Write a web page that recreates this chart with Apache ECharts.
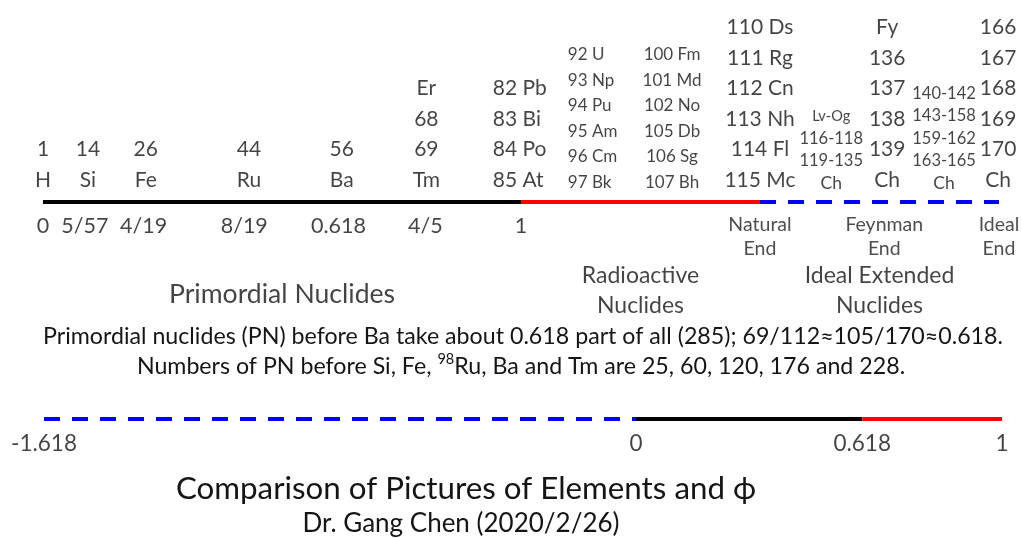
<!DOCTYPE html>
<html><head><meta charset="utf-8">
<script src="https://cdn.jsdelivr.net/npm/echarts@6/dist/echarts.min.js"></script>
<style>html,body{margin:0;padding:0;background:#fff}#c{width:1021px;height:538px}</style>
</head><body><div id="c"></div>
<script>
// ---------- data ----------
// top number line segments (fraction scale)
const topBlack = [0, 1];
const topRed = [1, 1.5];
const topBlue = [1.5, 2];
// element label columns above the top line
const colPos = [0, 0.094, 0.215, 0.431, 0.625, 0.802, 0.941, 1.098, 1.316, 1.5, 1.649, 1.766, 1.885, 1.998];
const colLines = [
  ['1', 'H'], ['14', 'Si'], ['26', 'Fe'], ['44', 'Ru'], ['56', 'Ba'],
  ['Er', '68', '69', 'Tm'],
  ['82 Pb', '83 Bi', '84 Po', '85 At'],
  ['92 U', '93 Np', '94 Pu', '95 Am', '96 Cm', '97 Bk'],
  ['100 Fm', '101 Md', '102 No', '105 Db', '106 Sg', '107 Bh'],
  ['110 Ds', '111 Rg', '112 Cn', '113 Nh', '114 Fl', '115 Mc'],
  ['Lv-Og', '116-118', '119-135', 'Ch'],
  ['Fy', '136', '137', '138', '139', 'Ch'],
  ['140-142', '143-158', '159-162', '163-165', 'Ch'],
  ['166', '167', '168', '169', '170', 'Ch']
];
const colKind = ['big','big','big','big','big','big','big','small','small','big','mixA','big','mixB','big'];
const colAlign = ['center','center','center','center','center','center','left','left','center','center','center','center','center','center'];
// tick labels under the top line
const tickPos = [0, 5/57, 4/19, 8/19, 0.618, 4/5, 1];
const tickText = ['0', '5/57', '4/19', '8/19', '0.618', '4/5', '1'];
const endPos = [1.5, 1.76, 2];
const endText = ['Natural\nEnd', 'Feynman\nEnd', 'Ideal\nEnd'];
const groupPos = [0.5, 1.25, 1.75];
const groupText = ['Primordial Nuclides', 'Radioactive\nNuclides', 'Ideal Extended\nNuclides'];
// bottom (phi) number line
const botBlue = [-1.618, 0];
const botBlack = [0, 0.618];
const botRed = [0.618, 1];
const botTickPos = [-1.618, 0, 0.618, 1];
const botTickText = ['-1.618', '0', '0.618', '1'];
const noteLine1 = 'Primordial nuclides (PN) before Ba take about 0.618 part of all (285); 69/112\u2248105/170\u22480.618.';
const noteLine2a = 'Numbers of PN before Si, Fe, ';
const noteSup = '98';
const noteLine2b = 'Ru, Ba and Tm are 25, 60, 120, 176 and 228.';
const titleText = 'Comparison of Pictures of Elements and \u03d5';
const subtitleText = 'Dr. Gang Chen (2020/2/26)';

// ---------- build ----------
const FONT = 'Lato';
const TXT = '#151515';
const rich = {
  b: {fontSize: 21, lineHeight: 30.5, fontFamily: FONT, color: TXT},
  s: {fontSize: 17, lineHeight: 25.5, fontFamily: FONT, color: TXT},
  xs: {fontSize: 14.5, lineHeight: 22.6, fontFamily: FONT, color: TXT},
  m: {fontSize: 16.5, lineHeight: 22.6, fontFamily: FONT, color: TXT},
  ch: {fontSize: 17.5, lineHeight: 22.6, fontFamily: FONT, color: TXT}
};
function richFor(kind, lines) {
  return lines.map((t, i) => {
    let k = 'b';
    if (kind === 'small') k = 's';
    else if (kind === 'mixA') k = i === 0 ? 'xs' : (i === lines.length - 1 ? 'ch' : 'm');
    else if (kind === 'mixB') k = i === lines.length - 1 ? 'ch' : 'm';
    return '{' + k + '|' + t + '}';
  }).join('\n');
}
function seg(range, color, type, xi, yi) {
  return {
    type: 'line', xAxisIndex: xi, yAxisIndex: yi, silent: true, symbol: 'none',
    data: [[range[0], 0], [range[1], 0]],
    lineStyle: {color: color, width: 4, type: type, cap: 'butt'}, z: 2
  };
}
function textPoints(xs, texts, labelCfg, xi, yi, perItem) {
  return {
    type: 'scatter', xAxisIndex: xi, yAxisIndex: yi, silent: true, symbolSize: 0,
    itemStyle: {color: 'transparent'},
    data: xs.map((x, i) => ({value: [x, 0],
      label: Object.assign({}, labelCfg, perItem ? perItem(texts[i]) : {}, {formatter: texts[i]})})),
    label: {show: true}
  };
}
const colSeries = {
  type: 'scatter', xAxisIndex: 0, yAxisIndex: 0, silent: true, symbolSize: 0,
  itemStyle: {color: 'transparent'},
  data: colPos.map((x, i) => ({
    value: [x, 0],
    label: {show: true, position: 'top', distance: 7, align: colAlign[i],
      formatter: richFor(colKind[i], colLines[i]), rich: rich}
  }))
};
// group captions: single-line caption sits lower and larger
function groupStyle(t) {
  return t.indexOf('\n') < 0 ? {distance: 76, fontSize: 26.6, lineHeight: 32} : {distance: 59, fontSize: 23, lineHeight: 30};
}
const chart = echarts.init(document.getElementById('c'), null, {renderer: 'canvas'});
chart.setOption({
  animation: false,
  backgroundColor: '#fff',
  grid: [
    {left: 43, width: 956, top: 192, height: 20},
    {left: 44, width: 958, top: 409, height: 20}
  ],
  xAxis: [
    {type: 'value', gridIndex: 0, min: 0, max: 2, show: false},
    {type: 'value', gridIndex: 1, min: -1.618, max: 1, show: false}
  ],
  yAxis: [
    {type: 'value', gridIndex: 0, min: -1, max: 1, show: false},
    {type: 'value', gridIndex: 1, min: -1, max: 1, show: false}
  ],
  series: [
    seg(topBlack, '#000', 'solid', 0, 0),
    seg(topRed, '#ff0000', 'solid', 0, 0),
    seg(topBlue, '#0000ff', [16, 12], 0, 0),
    seg(botBlue, '#0000ff', [16, 12], 1, 1),
    seg(botBlack, '#000', 'solid', 1, 1),
    seg(botRed, '#ff0000', 'solid', 1, 1),
    colSeries,
    textPoints(tickPos, tickText, {show: true, position: 'bottom', distance: 12, fontFamily: FONT, fontSize: 21.5, lineHeight: 24, color: TXT}, 0, 0),
    textPoints(endPos, endText, {show: true, position: 'bottom', distance: 11, fontFamily: FONT, fontSize: 19.5, lineHeight: 23.5, color: '#222'}, 0, 0),
    textPoints(groupPos, groupText, {show: true, position: 'bottom', fontFamily: FONT, color: TXT}, 0, 0, groupStyle),
    textPoints(botTickPos, botTickText, {show: true, position: 'bottom', distance: 12, fontFamily: FONT, fontSize: 22.5, lineHeight: 26, color: TXT}, 1, 1)
  ],
  graphic: [
    {type: 'text', x: 523, y: 337, style: {text: noteLine1, fontFamily: FONT, fontSize: 23.2, fill: TXT, align: 'center', verticalAlign: 'middle'}},
    {type: 'text', x: 521, y: 367, style: {
      text: '{n|' + noteLine2a + '}{sup|' + noteSup + '}{n|' + noteLine2b + '}',
      align: 'center', verticalAlign: 'middle',
      rich: {
        n: {fontFamily: FONT, fontSize: 23.2, fill: TXT, lineHeight: 30, verticalAlign: 'middle'},
        sup: {fontFamily: FONT, fontSize: 14.5, fill: TXT, lineHeight: 30, verticalAlign: 'top'}
      }}},
    {type: 'text', x: 466, y: 489, style: {text: titleText, fontFamily: FONT, fontSize: 31.3, fill: TXT, align: 'center', verticalAlign: 'middle'}},
    {type: 'text', x: 461, y: 524, style: {text: subtitleText, fontFamily: FONT, fontSize: 26, fill: TXT, align: 'center', verticalAlign: 'middle'}}
  ]
});
</script></body></html>
